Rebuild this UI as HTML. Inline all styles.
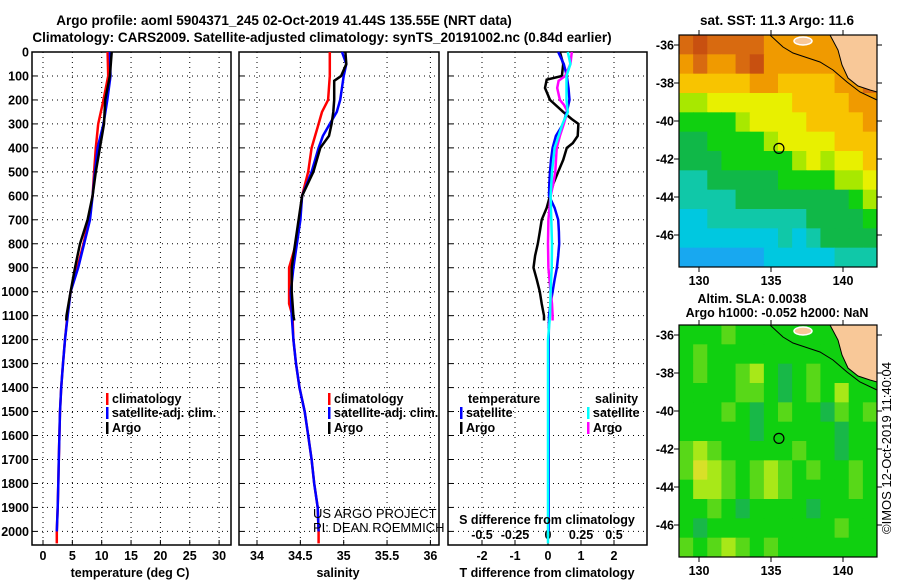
<!DOCTYPE html>
<html><head><meta charset="utf-8"><style>
html,body{margin:0;padding:0;background:#fff;}
svg{display:block;font-family:"Liberation Sans",Arial,sans-serif;}
.b{font-weight:bold;font-size:12.5px;fill:#000;}
.t{font-weight:bold;font-size:13.5px;fill:#000;}
.n{font-weight:normal;font-size:13px;fill:#000;}
</style></head><body>
<svg id="fig" width="900" height="580" viewBox="0 0 900 580" xmlns="http://www.w3.org/2000/svg">
<rect width="900" height="580" fill="#fff"/>
<text class="t" x="284" y="25" text-anchor="middle">Argo profile: aoml 5904371_245 02-Oct-2019 41.44S 135.55E (NRT data)</text>
<text class="t" x="322" y="42" text-anchor="middle">Climatology: CARS2009. Satellite-adjusted climatology: synTS_20191002.nc (0.84d earlier)</text>
<g id="g1"></g><g id="g2"></g><g id="g3"></g><g id="gm1"></g><g id="gm2"></g>
<text class="b" x="130" y="577" text-anchor="middle">temperature (deg C)</text>
<text class="b" x="338" y="577" text-anchor="middle">salinity</text>
<text class="b" x="547" y="577" text-anchor="middle">T difference from climatology</text>
<text class="b" x="547" y="524" text-anchor="middle">S difference from climatology</text>
<text class="n" x="313" y="518">US ARGO PROJECT</text>
<text class="n" x="313" y="532">PI: DEAN ROEMMICH</text>
<text class="t" x="777" y="25" text-anchor="middle">sat. SST: 11.3 Argo: 11.6</text>
<text class="b" x="752" y="303" text-anchor="middle">Altim. SLA: 0.0038</text>
<text class="b" x="777" y="317" text-anchor="middle">Argo h1000: -0.052 h2000: NaN</text>
<text class="n" x="891" y="448" text-anchor="middle" transform="rotate(-90 891 448)">©IMOS 12-Oct-2019 11:40:04</text>
</svg>
<script>
// ---- profile data ----
const depthTicks=[0,100,200,300,400,500,600,700,800,900,1000,1100,1200,1300,1400,1500,1600,1700,1800,1900,2000];
const tempTicks=[0,5,10,15,20,25,30];
const salTicks=[34,34.5,35,35.5,36];
const salTickLabels=["34","34.5","35","35.5","36"];
const dTTicks=[-2,-1,0,1,2];
const dSTicks=[-0.5,-0.25,0,0.25,0.5];
const dSTickLabels=["-0.5","-0.25","0","0.25","0.5"];

const tempClimDepth=[0,100,200,300,400,500,600,700,800,900,1000,1100,1200,1300,1400,1500,1600,1700,1800,1900,2000,2050];
const tempClim=[11.0,11.1,10.3,9.4,9.0,8.7,8.45,7.8,6.9,5.85,4.7,4.15,3.75,3.4,3.1,2.9,2.8,2.7,2.6,2.5,2.35,2.35];
const tempSatDepth=[0,100,200,300,400,500,600,700,800,900,1000,1100,1200,1300,1400,1500,1600,1700,1800,1900,2000];
const tempSat=[11.4,11.5,10.95,10.3,9.3,8.86,8.45,8.0,7.0,6.0,4.7,4.2,3.75,3.4,3.1,2.9,2.8,2.7,2.6,2.5,2.35];
const tempArgoDepth=[0,100,200,300,400,500,600,700,800,900,1000,1100,1120];
const tempArgo=[11.7,11.4,10.6,10.4,9.7,9.0,8.45,7.6,6.3,5.45,4.7,4.0,3.95];

const salClimDepth=[0,50,100,200,250,300,350,400,500,600,700,800,900,1000,1050,1100,1200,1300,1400,1500,1600,1700,1800,1900,2000,2050];
const salClim=[34.84,34.84,34.84,34.82,34.75,34.71,34.67,34.63,34.59,34.52,34.49,34.45,34.37,34.37,34.37,34.41,34.42,34.45,34.49,34.55,34.59,34.63,34.66,34.70,34.71,34.71];
const salSatDepth=[0,50,100,200,250,300,350,400,500,600,700,800,900,1000,1100,1200,1300,1400,1500,1600,1700,1800,1900,2000];
const salSat=[34.98,35.03,35.0,34.96,34.92,34.84,34.76,34.71,34.63,34.52,34.5,34.46,34.42,34.39,34.40,34.42,34.45,34.49,34.55,34.59,34.63,34.66,34.70,34.71];
const salArgoDepth=[0,50,100,120,200,250,300,350,400,500,600,700,800,900,1000,1100,1120];
const salArgo=[35.02,35.03,34.97,34.89,34.89,34.88,34.86,34.83,34.73,34.65,34.52,34.48,34.44,34.40,34.40,34.42,34.43];

const dTArgoDepth=[0,50,100,115,150,200,250,280,300,350,380,400,450,500,550,600,650,700,750,800,850,900,950,1000,1050,1100,1120];
const dTArgo=[0.36,0.46,0.42,-0.04,-0.09,0.06,0.46,0.72,0.92,0.9,0.75,0.57,0.46,0.31,0.16,0.06,-0.04,-0.19,-0.25,-0.31,-0.39,-0.44,-0.34,-0.25,-0.19,-0.12,-0.12];
const dTSatDepth=[0,50,100,150,200,250,300,350,400,450,500,550,600,650,700,750,800,850,900,950,1000,1050,1100,1200,1500,2000];
const dTSat=[0.31,0.48,0.57,0.62,0.65,0.57,0.46,0.24,0.14,0.09,0.06,0.04,0.03,0.2,0.31,0.33,0.34,0.31,0.27,0.2,0.14,0.08,0.03,0.02,0.02,0.02];
const dSArgoDepth=[0,50,100,120,150,200,220,250,280,300,350,400,500,550,600,700,800,900,1000,1050,1100,1120];
const dSArgo=[0.18,0.17,0.13,0.08,0.07,0.09,0.12,0.15,0.13,0.12,0.09,0.066,0.055,0.04,0.02,0.003,0,0.003,0.02,0.03,0.035,0.035];
const dSSatDepth=[0,50,100,200,250,300,350,400,500,600,700,800,900,1000,1100,1200,1600,2050];
const dSSat=[0.15,0.17,0.14,0.14,0.15,0.11,0.08,0.05,0.03,0.02,0.025,0.03,0.028,0.02,0.015,0,0,0];

// ---- map data (14 lon columns x 12 lat rows) ----
const mapLons=[128.6,142.4];
const mapLats=[-35.5,-47.4];
const sstGrid=[
[13,13.5,13,13,13,13,12.5,12.5,12.5,12.5,12.5,12.5,12.5,12.5],
[12.5,13,12.5,12.5,13,13.5,12.5,12.5,12.5,12.5,12.5,12.5,12.5,12.5],
[12,12,12,12,12,12.5,12.5,12,12,12,12,12.5,12.5,13],
[11,11,11.5,11.5,11.5,11.5,11.5,11.5,12,12,12,12,12.5,12.5],
[10.5,10.5,10.5,10.5,11,11.5,11.5,11.5,11.5,12,12,12,12,12.5],
[10,10,10.5,10.5,10.5,10.5,11,11.5,11.5,11.5,11.5,12,12,12],
[10,10,10,10.5,10.5,10.5,10.5,10.5,11,11.5,11,11.5,11.5,12],
[9.5,9.5,10,10,10,10,10,10.5,10.5,10.5,10.5,11,11,11.5],
[9.5,9.5,9.5,9.5,10,10,10,10,10,10,10,10,10.5,11],
[9,9,9.5,9.5,9.5,9.5,9.5,9.5,9.5,10,10,10,10,10.5],
[9,9,9,9,9,9,9,9.5,9,9.5,10,10,10,10],
[8.5,8.5,8.5,8.5,8.5,8.5,9,9,9,9,9,9.5,9.5,9.5]];
const slaGrid=[
[0,0,0,1,0,0,0,0,0,0,0,0,0,0],
[0,1,0,0,0,0,0,0,0,0,0,0,0,0],
[0,1,0,0,1,2,0,-1,0,1,0,0,0,0],
[0,0,0,0,1,1,0,-1,0,1,0,2,0,0],
[0,0,0,1,0,-1,0,1,0,0,-1,1,0,1],
[0,0,0,0,0,-1,0,0,0,0,0,-1,0,0],
[1,2,1,0,0,0,0,0,1,0,0,-1,0,0],
[1,3,2,1,0,1,2,1,0,1,0,0,1,0],
[0,2,2,1,0,1,2,1,0,0,0,0,1,0],
[0,0,1,0,-1,0,0,0,0,-1,0,0,0,0],
[0,-1,0,0,0,0,0,0,0,0,0,1,0,0],
[1,0,1,2,1,0,1,0,0,0,0,0,0,0]];
const lonTicks=[130,135,140];
const latTicks=[-36,-38,-40,-42,-44,-46];
const floatLon=135.55, floatLat=-41.44;

const NS='http://www.w3.org/2000/svg';
function el(tag,parent){const e=document.createElementNS(NS,tag);parent.appendChild(e);return e;}
const TOP=52,BOT=545;
const yD=d=>TOP+d*0.2397;
const xT=v=>43+v*5.87;
const xS=v=>257+(v-34)*86.7;
const xdT=v=>548+v*33;
const xdS=v=>548+v*132;

function panel(g,x0,x1,xs,xticks,labels,name,withY){
  depthTicks.forEach(d=>{const l=el('line',g);l.setAttribute('x1',x0);l.setAttribute('x2',x1);l.setAttribute('y1',yD(d));l.setAttribute('y2',yD(d));l.setAttribute('stroke','#000');l.setAttribute('stroke-width','1');l.setAttribute('stroke-dasharray','1 4');
    
    
    const tk=el('line',g);tk.setAttribute('x1',x0);tk.setAttribute('x2',x0+5);tk.setAttribute('y1',yD(d));tk.setAttribute('y2',yD(d));tk.setAttribute('stroke','#000');
    
    
    if(withY){const t=el('text',g);t.setAttribute('x',x0-3);t.setAttribute('y',yD(d)+4.5);t.setAttribute('text-anchor','end');t.setAttribute('class','b');t.textContent=d;
      
      }
  });
  xticks.forEach((v,i)=>{const x=xs(v);const l=el('line',g);l.setAttribute('x1',x);l.setAttribute('x2',x);l.setAttribute('y1',TOP);l.setAttribute('y2',BOT);l.setAttribute('stroke','#000');l.setAttribute('stroke-dasharray','1 4');
    
    
    const tk=el('line',g);tk.setAttribute('x1',x);tk.setAttribute('x2',x);tk.setAttribute('y1',BOT);tk.setAttribute('y2',BOT-5);tk.setAttribute('stroke','#000');
    
    
    const t=el('text',g);t.setAttribute('x',x);t.setAttribute('y',560);t.setAttribute('text-anchor','middle');t.setAttribute('class','b');t.textContent=labels[i];
    
    
  });
  const r=el('rect',g);r.setAttribute('x',x0);r.setAttribute('y',TOP);r.setAttribute('width',x1-x0);r.setAttribute('height',BOT-TOP);r.setAttribute('fill','none');r.setAttribute('stroke','#000');r.setAttribute('stroke-width','1.5');
  
  
}
function series(g,depths,vals,xs,color,name){
  const p=el('polyline',g);
  p.setAttribute('points',vals.map((v,i)=>xs(v).toFixed(1)+','+yD(depths[i]).toFixed(1)).join(' '));
  p.setAttribute('fill','none');p.setAttribute('stroke',color);p.setAttribute('stroke-width','2.5');
  
  
}
function legend(g,x,y,color,label,name){
  const l=el('rect',g);l.setAttribute('x',x);l.setAttribute('y',y-10);l.setAttribute('width',2.5);l.setAttribute('height',12);l.setAttribute('fill',color);
  
  
  const t=el('text',g);t.setAttribute('x',x+6);t.setAttribute('y',y);t.setAttribute('class','b');t.textContent=label;
  
  
}
const g1=document.getElementById('g1'),g2=document.getElementById('g2'),g3=document.getElementById('g3');
panel(g1,32,231,xT,tempTicks,tempTicks.map(String),'temperature',true);
series(g1,tempClimDepth,tempClim,xT,'#f00','temperature-climatology-line');
series(g1,tempSatDepth,tempSat,xT,'#00f','temperature-satellite-line');
series(g1,tempArgoDepth,tempArgo,xT,'#000','temperature-argo-line');
legend(g1,106,403,'#f00','climatology','temp-legend-climatology');
legend(g1,106,417,'#00f','satellite-adj. clim.','temp-legend-satellite');
legend(g1,106,432,'#000','Argo','temp-legend-argo');

panel(g2,239,439,xS,salTicks,salTickLabels,'salinity',false);
series(g2,salClimDepth,salClim,xS,'#f00','salinity-climatology-line');
series(g2,salSatDepth,salSat,xS,'#00f','salinity-satellite-line');
series(g2,salArgoDepth,salArgo,xS,'#000','salinity-argo-line');
legend(g2,328,403,'#f00','climatology','sal-legend-climatology');
legend(g2,328,417,'#00f','satellite-adj. clim.','sal-legend-satellite');
legend(g2,328,432,'#000','Argo','sal-legend-argo');

panel(g3,448,647,xdT,dTTicks,dTTicks.map(String),'t-diff',false);
dSTicks.forEach((v,i)=>{const t=el('text',g3);t.setAttribute('x',xdS(v));t.setAttribute('y',539);t.setAttribute('text-anchor','middle');t.setAttribute('class','b');t.textContent=dSTickLabels[i];
  
  });
series(g3,dTArgoDepth,dTArgo,xdT,'#000','t-diff-argo-line');
series(g3,dTSatDepth,dTSat,xdT,'#00f','t-diff-satellite-line');
series(g3,dSArgoDepth,dSArgo,xdS,'#f0f','s-diff-argo-line');
series(g3,dSSatDepth,dSSat,xdS,'#0ff','s-diff-satellite-line');
{const t=el('text',g3);t.setAttribute('x',468);t.setAttribute('y',403);t.setAttribute('class','b');t.textContent='temperature';
 
 
 const s=el('text',g3);s.setAttribute('x',595);s.setAttribute('y',403);s.setAttribute('class','b');s.textContent='salinity';
 
 }
legend(g3,460,417,'#00f','satellite','diff-legend-t-satellite');
legend(g3,460,432,'#000','Argo','diff-legend-t-argo');
legend(g3,587,417,'#0ff','satellite','diff-legend-s-satellite');
legend(g3,587,432,'#f0f','Argo','diff-legend-s-argo');

// ---- maps ----
const MX0=679,MX1=877;
const lonX=l=>699+(l-130)*14.4;
function sstColor(v){
  if(v>=13.5)return '#c85010'; if(v>=13)return '#d86a10'; if(v>=12.5)return '#f09a00';
  if(v>=12)return '#f8c400'; if(v>=11.5)return '#e8f000'; if(v>=11)return '#a8e800';
  if(v>=10.5)return '#10d010'; if(v>=10)return '#10b848'; if(v>=9.5)return '#10c8a8';
  if(v>=9)return '#00c8e0'; if(v>=8.5)return '#18a8f0'; return '#1030c0';
}
function slaColor(v){
  if(v>=3)return '#d8e028'; if(v>=2)return '#a8e818'; if(v>=1)return '#58d818';
  if(v>=0)return '#10d010'; return '#18b848';
}
function drawMap(g,y0,grid,colorFn,name){
  const latY=l=>y0+10+(-36-l)*19.0;
  const top=y0,bot=y0+232;
  const cw=(MX1-MX0)/grid[0].length,ch=(bot-top)/grid.length;
  grid.forEach((row,r)=>row.forEach((v,c)=>{
    const rc=el('rect',g);rc.setAttribute('x',(MX0+c*cw).toFixed(2));rc.setAttribute('y',(top+r*ch).toFixed(2));
    rc.setAttribute('width',(cw+0.5).toFixed(2));rc.setAttribute('height',(ch+0.5).toFixed(2));rc.setAttribute('fill',colorFn(v));
    
    
  }));
  const oy=top-35;
  const land=el('polygon',g);
  land.setAttribute('points',[[830,35],[838,50],[842,65],[848,78],[858,86],[870,90],[877,92],[877,35]].map(p=>p[0]+','+(p[1]+oy)).join(' '));
  land.setAttribute('fill','#f8c898');land.setAttribute('stroke','#000');land.setAttribute('stroke-width','1');
  
  
  const isl=el('ellipse',g);isl.setAttribute('cx',803);isl.setAttribute('cy',41+oy);isl.setAttribute('rx',9);isl.setAttribute('ry',4);
  isl.setAttribute('fill','#f8c898');isl.setAttribute('stroke','#fff');isl.setAttribute('stroke-width','1.5');
  
  
  const coast=el('polyline',g);
  coast.setAttribute('points',[[770,35],[783,47],[793,53],[820,62],[833,70],[847,82],[860,92],[877,100]].map(p=>p[0]+','+(p[1]+oy)).join(' '));
  coast.setAttribute('fill','none');coast.setAttribute('stroke','#000');coast.setAttribute('stroke-width','1');
  
  
  const ci=el('circle',g);ci.setAttribute('cx',lonX(floatLon));ci.setAttribute('cy',latY(floatLat));ci.setAttribute('r',5);
  ci.setAttribute('fill','none');ci.setAttribute('stroke','#000');ci.setAttribute('stroke-width','1.2');
  
  
  const fr=el('rect',g);fr.setAttribute('x',MX0);fr.setAttribute('y',top);fr.setAttribute('width',MX1-MX0);fr.setAttribute('height',bot-top);
  fr.setAttribute('fill','none');fr.setAttribute('stroke','#000');fr.setAttribute('stroke-width','1.2');
  
  
  latTicks.forEach(l=>{const y=latY(l);
    [[MX0-5,MX0],[MX1,MX1+5]].forEach(xx=>{const tk=el('line',g);tk.setAttribute('x1',xx[0]);tk.setAttribute('x2',xx[1]);tk.setAttribute('y1',y);tk.setAttribute('y2',y);tk.setAttribute('stroke','#000');
      
      });
    const t=el('text',g);t.setAttribute('x',MX0-5);t.setAttribute('y',y+4.5);t.setAttribute('text-anchor','end');t.setAttribute('class','b');t.textContent=l;
    
    });
  lonTicks.forEach(l=>{const x=lonX(l);
    [[top-5,top],[bot,bot+5]].forEach(yy=>{const tk=el('line',g);tk.setAttribute('x1',x);tk.setAttribute('x2',x);tk.setAttribute('y1',yy[0]);tk.setAttribute('y2',yy[1]);tk.setAttribute('stroke','#000');
      
      });
    const t=el('text',g);t.setAttribute('x',x);t.setAttribute('y',bot+18);t.setAttribute('text-anchor','middle');t.setAttribute('class','b');t.textContent=l;
    
    });
}
drawMap(document.getElementById('gm1'),35,sstGrid,sstColor,'sst-map');
drawMap(document.getElementById('gm2'),325,slaGrid,slaColor,'sla-map');
</script>
</body></html>
